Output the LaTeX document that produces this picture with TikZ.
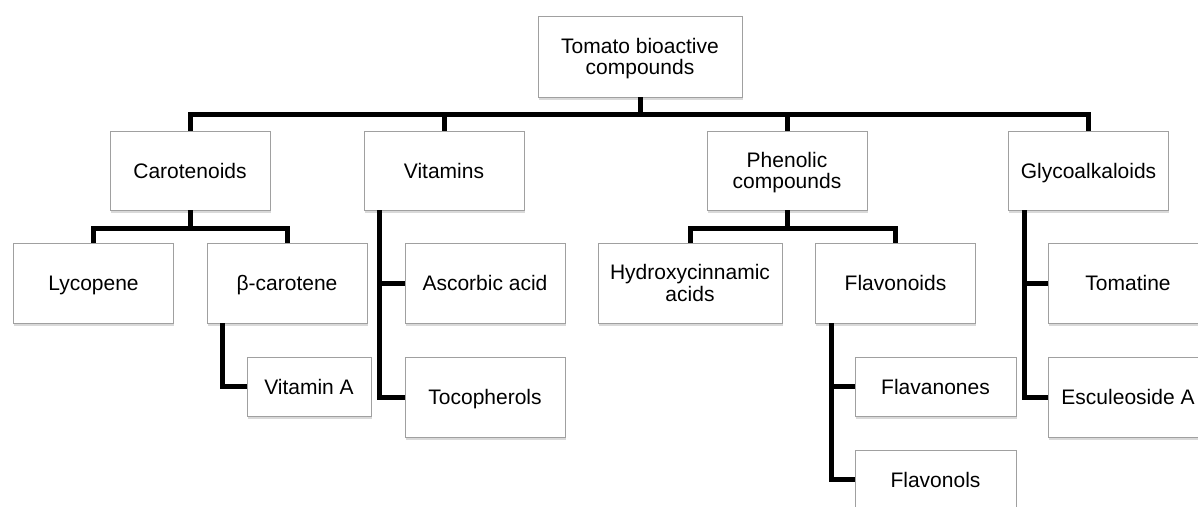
\documentclass[tikz,border=0pt]{standalone}
\usepackage{fontspec}
\setmainfont{Liberation Sans}
\usetikzlibrary{shadows}
\definecolor{boxline}{RGB}{160,160,160}

\begin{document}
\begin{tikzpicture}[x=1pt,y=-1pt,
  box/.style={draw=boxline, line width=0.9pt, fill=white, align=center,
    minimum width=160pt, minimum height=80pt, inner sep=2pt,
    font=\fontsize{21}{21.7}\selectfont, text height=15pt, text depth=0pt,
    drop shadow={shadow xshift=0.8pt, shadow yshift=-2.5pt, opacity=0.3}},
  twolines/.style={text height=36.7pt},
  smallbox/.style={box, minimum height=59pt},
  link/.style={line width=5pt, black}]
\useasboundingbox (0,0) rectangle (1198,506);
\clip (0,0) rectangle (1198,506);
  % root
  \node[box, twolines, minimum width=204pt, minimum height=81pt] (root) at (640,56.5) {Tomato bioactive\\compounds};
  % first level
  \node[box, minimum height=79pt] (caro) at (190,170.5) {Carotenoids};
  \node[box, minimum height=79pt] (vita) at (444,170.5) {Vitamins};
  \node[box, twolines, minimum height=79pt] (phen) at (787,170.5) {Phenolic\\compounds};
  \node[box, minimum height=79pt] (glyco) at (1088.5,170.5) {Glycoalkaloids};
  % second level
  \node[box] (lyco) at (93.5,283) {Lycopene};
  \node[box] (beta) at (287,283) {β-carotene};
  \node[box] (ascor) at (485,283) {Ascorbic acid};
  \node[box] (toco) at (485,397) {Tocopherols};
  \node[box, twolines, minimum width=184pt] (hydro) at (690,283) {Hydroxycinnamic\\acids};
  \node[box] (flavo) at (895.5,283) {Flavonoids};
  \node[box] (toma) at (1128,283) {Tomatine};
  \node[box] (escu) at (1128,397) {Esculeoside A};
  % third level
  \node[smallbox, minimum width=124pt] (vitA) at (309,386.5) {Vitamin A};
  \node[smallbox, minimum width=161pt] (flavan) at (935.5,386.5) {Flavanones};
  \node[smallbox, minimum width=161pt] (flavol) at (935.5,479.5) {Flavonols};
  % connectors
  \foreach \c in {caro,vita,phen,glyco}
    \draw[link] (root.south) -- ++(0,17) -| (\c.north);
  \foreach \c in {lyco,beta}
    \draw[link] (caro.south) -- ++(0,18) -| (\c.north);
  \foreach \c in {hydro,flavo}
    \draw[link] (phen.south) -- ++(0,18) -| (\c.north);
  \draw[link] ([xshift=16pt]beta.south west) |- (vitA.west);
  \draw[link] ([xshift=16pt]vita.south west) |- (ascor.west);
  \draw[link] ([xshift=16pt]vita.south west) |- (toco.west);
  \draw[link] ([xshift=16.5pt]flavo.south west) |- (flavan.west);
  \draw[link] ([xshift=16.5pt]flavo.south west) |- (flavol.west);
  \draw[link] ([xshift=16pt]glyco.south west) |- (toma.west);
  \draw[link] ([xshift=16pt]glyco.south west) |- (escu.west);
\end{tikzpicture}
\end{document}
